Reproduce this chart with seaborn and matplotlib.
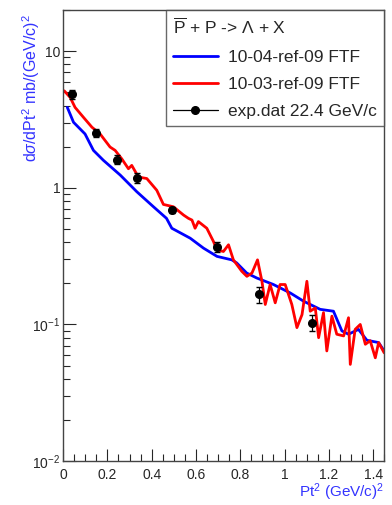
import matplotlib
matplotlib.use("Agg")
import matplotlib.pyplot as plt
import matplotlib.ticker as mticker
from matplotlib.lines import Line2D
import seaborn as sns
import pandas as pd

# estilo branco, sem grid
sns.set_style("white")
plt.rcParams["font.family"] = ["Liberation Sans", "DejaVu Sans"]
plt.rcParams["mathtext.fontset"] = "custom"
plt.rcParams["mathtext.rm"] = "Liberation Sans"
plt.rcParams["mathtext.it"] = "Liberation Sans:italic"

# dados experimentais (exp.dat 22.4 GeV/c)
exp_x = [0.04, 0.149, 0.243, 0.333, 0.493, 0.694, 0.886, 1.124]
exp_y = [4.85, 2.52, 1.61, 1.19, 0.69, 0.368, 0.166, 0.103]
exp_err = [0.35, 0.16, 0.12, 0.10, 0.035, 0.03, 0.022, 0.014]

# 10-04-ref-09 FTF (azul)
blue_x = [0.019, 0.047, 0.099, 0.137, 0.182, 0.258, 0.333, 0.408, 0.467, 0.491,
          0.574, 0.634, 0.695, 0.762, 0.784, 0.829, 0.874, 0.95, 1.026, 1.086,
          1.161, 1.221, 1.259, 1.289, 1.334, 1.372, 1.425, 1.45]
blue_y = [3.88, 3.02, 2.48, 1.88, 1.59, 1.24, 0.936, 0.727, 0.598, 0.506,
          0.428, 0.362, 0.315, 0.297, 0.282, 0.238, 0.219, 0.196, 0.17, 0.148,
          0.129, 0.125, 0.0897, 0.0848, 0.092, 0.0766, 0.0737, 0.064]

# 10-03-ref-09 FTF (vermelho)
red_x = [0.005, 0.032, 0.054, 0.092, 0.13, 0.167, 0.212, 0.235, 0.265, 0.295,
         0.31, 0.34, 0.378, 0.423, 0.453, 0.498, 0.544, 0.566, 0.582, 0.596,
         0.611, 0.649, 0.679, 0.694, 0.724, 0.747, 0.769, 0.807, 0.83, 0.853,
         0.878, 0.898, 0.913, 0.935, 0.958, 0.98, 1.003, 1.033, 1.056, 1.079,
         1.101, 1.116, 1.139, 1.154, 1.176, 1.191, 1.214, 1.236, 1.267, 1.289,
         1.297, 1.319, 1.342, 1.365, 1.387, 1.41, 1.425, 1.45]
red_y = [5.13, 4.59, 3.88, 3.28, 2.78, 2.48, 1.99, 1.88, 1.63, 1.38,
         1.46, 1.2, 1.17, 0.96, 0.756, 0.727, 0.632, 0.598, 0.581, 0.506,
         0.566, 0.506, 0.405, 0.352, 0.342, 0.383, 0.297, 0.245, 0.225, 0.238,
         0.297, 0.207, 0.14, 0.196, 0.144, 0.196, 0.196, 0.14, 0.0948, 0.118,
         0.207, 0.125, 0.132, 0.080, 0.122, 0.064, 0.115, 0.0848, 0.0824, 0.112,
         0.051, 0.092, 0.1, 0.0716, 0.076, 0.057, 0.0737, 0.062]

y_ticks = [0.01, 0.1, 1, 10]
y_tick_labels = [r"$10^{-2}$", r"$10^{-1}$", "1", "10"]

blue_df = pd.DataFrame({"x": blue_x, "y": blue_y})
red_df = pd.DataFrame({"x": red_x, "y": red_y})

fig = plt.figure(figsize=(3.92, 5.05), dpi=100)
ax = fig.add_axes([0.161, 0.087, 0.819, 0.893])

sns.lineplot(data=blue_df, x="x", y="y", color="#0000ff", linewidth=2.0, ax=ax)
sns.lineplot(data=red_df, x="x", y="y", color="#ff0000", linewidth=2.0, ax=ax)
ax.errorbar(exp_x, exp_y, yerr=exp_err, fmt="o", color="black",
            markersize=5.5, elinewidth=0.9, capsize=2, zorder=5)

ax.set_yscale("log")
ax.set_xlim(0, 1.45)
ax.set_ylim(0.01, 20)

ax.set_yticks(y_ticks)
ax.set_yticklabels(y_tick_labels)
ax.yaxis.set_minor_locator(mticker.LogLocator(base=10, subs=range(2, 10)))
ax.yaxis.set_minor_formatter(mticker.NullFormatter())
ax.xaxis.set_major_locator(mticker.MultipleLocator(0.2))
ax.xaxis.set_minor_locator(mticker.MultipleLocator(0.05))
ax.xaxis.set_major_formatter(mticker.FuncFormatter(lambda v, p: f"{v:g}"))

ax.tick_params(axis="both", which="major", direction="in", length=9,
               width=0.8, labelsize=10, top=False, right=False,
               bottom=True, left=True)
ax.tick_params(axis="both", which="minor", direction="in", length=5,
               width=0.8, top=False, right=False, bottom=True, left=True)
ax.tick_params(axis="x", pad=5)
ax.tick_params(axis="y", pad=2)

for s in ax.spines.values():
    s.set_color("#444444")
    s.set_linewidth(1.0)

ax.set_xlabel(r"Pt$^{2}$ (GeV/c)$^{2}$", color="#3333ff", fontsize=11,
              ha="right")
ax.xaxis.set_label_coords(1.0, -0.046)
ax.set_ylabel(r"d$\sigma$/dPt$^{2}$ mb/(GeV/c)$^{2}$", color="#3333ff",
              fontsize=11.5, ha="right")
ax.yaxis.set_label_coords(-0.065, 0.99)

# legenda
handles = [
    Line2D([], [], color="#0000ff", linewidth=2.0),
    Line2D([], [], color="#ff0000", linewidth=2.0),
    Line2D([], [], color="black", linewidth=0.9, marker="o", markersize=5.5),
]
labels = ["10-04-ref-09 FTF", "10-03-ref-09 FTF", "exp.dat 22.4 GeV/c"]
leg = ax.legend(handles, labels,
                title=r"$\overline{\rm P}$ + P -> $\Lambda$ + X",
                title_fontsize=12.5, fontsize=12.5, loc="upper right",
                borderaxespad=0, frameon=True, fancybox=False,
                handlelength=2.6, handletextpad=0.6, labelspacing=0.7,
                borderpad=0.4, alignment="left")
leg.get_frame().set_edgecolor("#444444")
leg.get_frame().set_linewidth(1.0)

fig.savefig("out.png", dpi=100)
